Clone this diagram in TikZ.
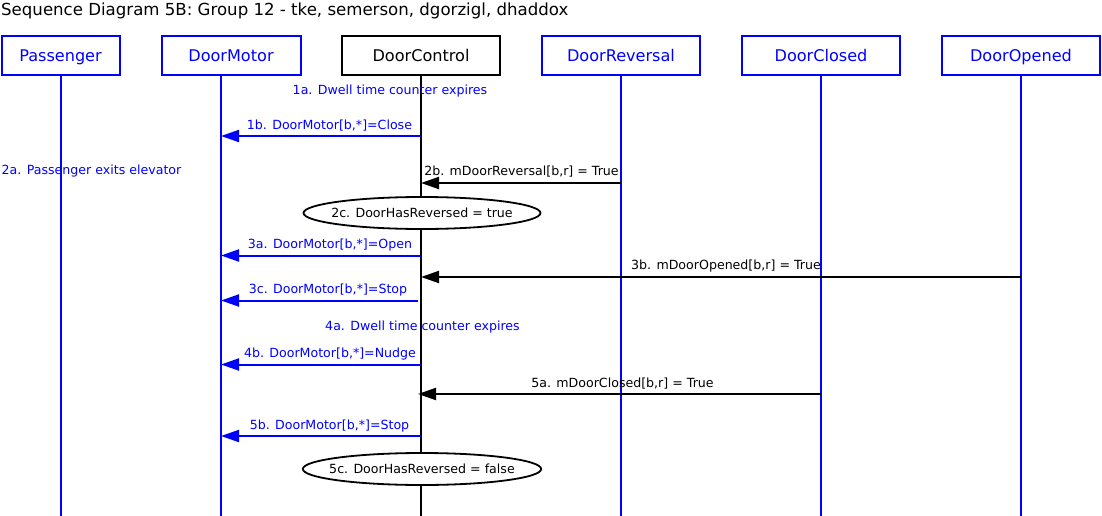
\documentclass[tikz,border=0pt]{standalone}
\usepackage{fontspec}
\setmainfont{DejaVu Sans}
\usetikzlibrary{arrows.meta,shapes.geometric}
\definecolor{seqblue}{RGB}{0,0,255}
\begin{document}
\begin{tikzpicture}[x=1pt,y=-1pt,
  objbox/.style={draw=seqblue,text=seqblue,line width=2pt,minimum height=39pt,inner sep=0pt,text height=13pt,text depth=0pt,font=\fontsize{16.1}{19}\selectfont},
  ctlbox/.style={objbox,draw=black,text=black},
  life/.style={draw=seqblue,line width=2pt},
  ctllife/.style={draw=black,line width=2pt},
  bmsg/.style={draw=seqblue,line width=2pt,-{Triangle[length=18pt,width=12pt]}},
  kmsg/.style={draw=black,line width=2pt,-{Triangle[length=18pt,width=12pt]}},
  blab/.style={text=seqblue,inner sep=0pt,font=\fontsize{12.6}{15}\selectfont},
  klab/.style={text=black,inner sep=0pt,font=\fontsize{12.6}{15}\selectfont},
  state/.style={ellipse,draw=black,line width=1.8pt,fill=white,minimum width=237pt,minimum height=32pt,inner xsep=-7pt,inner ysep=0pt,font=\fontsize{12.6}{15}\selectfont}
]
\useasboundingbox (0,0) rectangle (1102,516);
\node[anchor=west,inner sep=0pt,font=\fontsize{16.6}{19}\selectfont] (title) at (1,10.5) {Sequence Diagram 5B: Group 12 - tke, semerson, dgorzigl, dhaddox};

% lifeline heads
\node[objbox,minimum width=118pt] (pas) at (60.5,55.5) {Passenger};
\node[objbox,minimum width=139pt] (mot) at (231,55.5) {DoorMotor};
\node[ctlbox,minimum width=158pt] (ctl) at (421,55.5) {DoorControl};
\node[objbox,minimum width=158pt] (rev) at (621,55.5) {DoorReversal};
\node[objbox,minimum width=158pt] (clo) at (821,55.5) {DoorClosed};
\node[objbox,minimum width=158pt] (ope) at (1021,55.5) {DoorOpened};

% lifelines
\coordinate (Tpas) at (61,75); \coordinate (Bpas) at (61,516);
\coordinate (Tmot) at (221,75); \coordinate (Bmot) at (221,516);
\coordinate (Tctl) at (421,75); \coordinate (Bctl) at (421,516);
\coordinate (Trev) at (621,75); \coordinate (Brev) at (621,516);
\coordinate (Tclo) at (821,75); \coordinate (Bclo) at (821,516);
\coordinate (Tope) at (1021,75); \coordinate (Bope) at (1021,516);
\draw[life] (Tpas) -- (Bpas);
\draw[life] (Tmot) -- (Bmot);
\draw[life] (Trev) -- (Brev);
\draw[life] (Tclo) -- (Bclo);
\draw[life] (Tope) -- (Bope);
\draw[ctllife] (Tctl) -- (Bctl);

% message levels
\coordinate (y1b) at (0,136);
\coordinate (y2b) at (0,183);
\coordinate (y3a) at (0,255.5);
\coordinate (y3b) at (0,277);
\coordinate (y3c) at (0,300.5);
\coordinate (y4b) at (0,364.5);
\coordinate (y5a) at (0,394);
\coordinate (y5b) at (0,436);

\node[blab] (l1a) at (390,91) {1a. Dwell time counter expires};

\draw[bmsg] (Tctl |- y1b) -- (Tmot |- y1b);
\node[blab] (l1b) at (329.5,126) {1b. DoorMotor[b,*]=Close};

\node[blab,anchor=west] (l2a) at (1.5,171.5) {2a. Passenger exits elevator};

\draw[kmsg] (Trev |- y2b) -- (Tctl |- y2b);
\node[klab] (l2b) at (521.5,172) {2b. mDoorReversal[b,r] = True};

\node[state] (s2c) at (422,213) {2c. DoorHasReversed = true};

\draw[bmsg] (Tctl |- y3a) -- (Tmot |- y3a);
\node[blab] (l3a) at (330,245) {3a. DoorMotor[b,*]=Open};

\draw[kmsg] (Tope |- y3b) -- (Tctl |- y3b);
\node[klab] (l3b) at (726,266) {3b. mDoorOpened[b,r] = True};

\draw[bmsg] ([xshift=-3pt]Tctl |- y3c) -- (Tmot |- y3c);
\node[blab] (l3c) at (328,290) {3c. DoorMotor[b,*]=Stop};

\node[blab] (l4a) at (422.5,327.5) {4a. Dwell time counter expires};

\draw[bmsg] (Tctl |- y4b) -- (Tmot |- y4b);
\node[blab] (l4b) at (330,354) {4b. DoorMotor[b,*]=Nudge};

\draw[kmsg] (Tclo |- y5a) -- ([xshift=-3pt]Tctl |- y5a);
\node[klab] (l5a) at (622.5,383.5) {5a. mDoorClosed[b,r] = True};

\draw[bmsg] (Tctl |- y5b) -- (Tmot |- y5b);
\node[blab] (l5b) at (329.5,426) {5b. DoorMotor[b,*]=Stop};

\node[state,inner xsep=-8.5pt] (s5c) at (422,469) {5c. DoorHasReversed = false};
\end{tikzpicture}
\end{document}
